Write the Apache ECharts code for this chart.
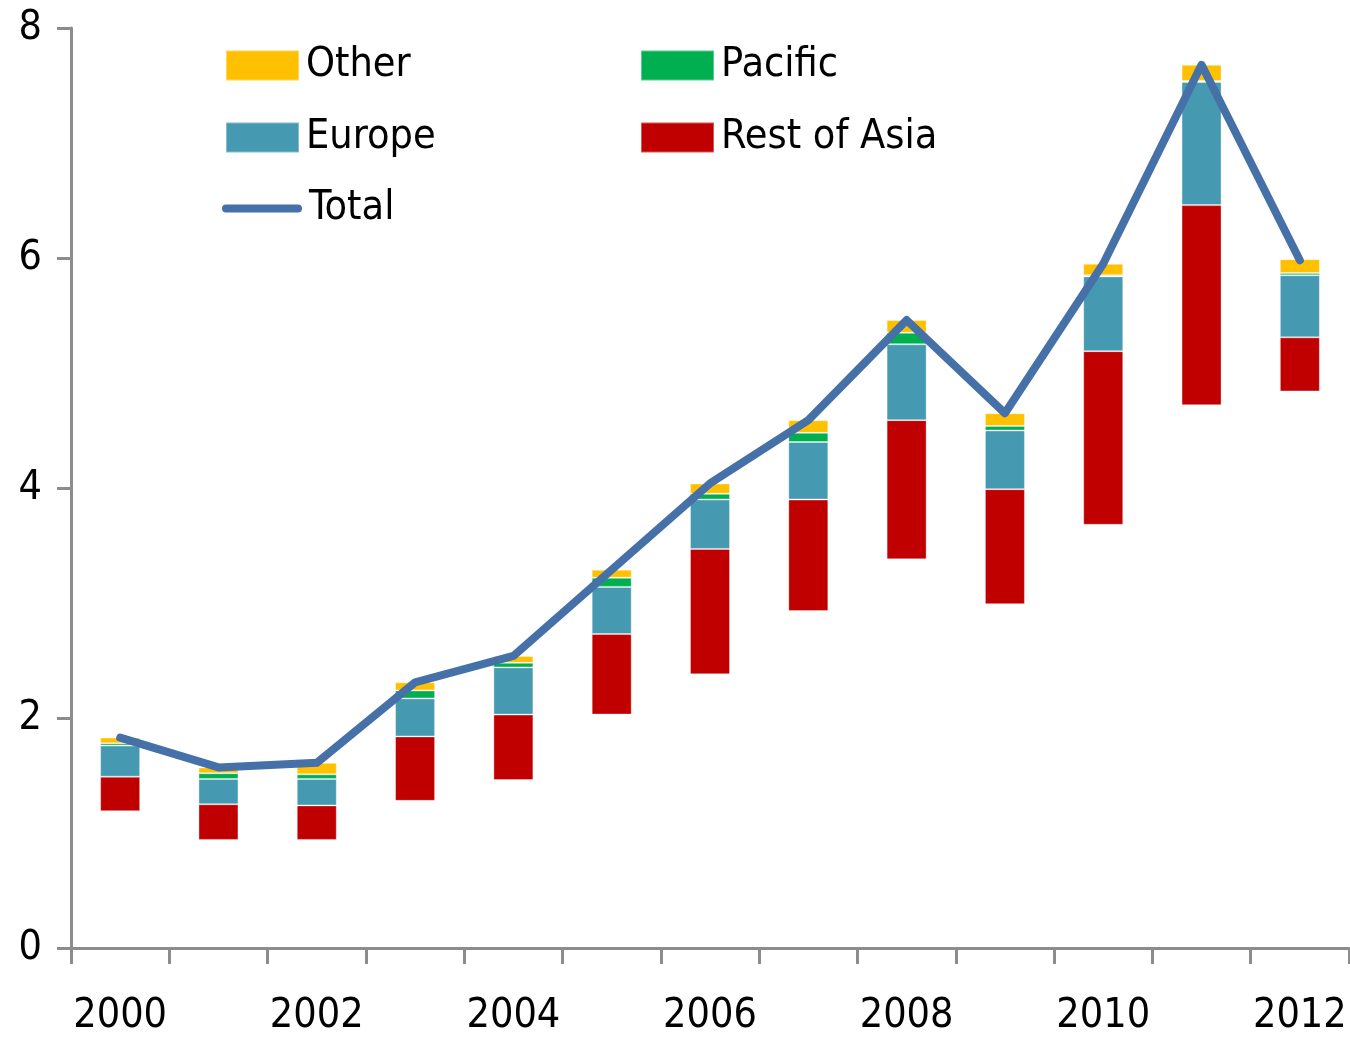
<!DOCTYPE html>
<html>
<head>
<meta charset="utf-8">
<title>Stacked regions with total</title>
<script src="https://cdn.jsdelivr.net/npm/echarts@6/dist/echarts.min.js"></script>
<style>
  html, body { margin: 0; padding: 0; background: #fff; overflow: hidden; }
  #chart { width: 100vw; height: 100vh; }
</style>
</head>
<body>
<div id="chart"></div>
<script>
// Years on the category axis
const years = ['2000', '2001', '2002', '2003', '2004', '2005', '2006',
               '2007', '2008', '2009', '2010', '2011', '2012'];

// Unlabelled lower part of each column (drawn invisible, lifts the stack)
const baseValues  = [1.19, 0.94, 0.94, 1.28, 1.46, 2.03, 2.38, 2.93, 3.38, 2.99, 3.68, 4.72, 4.84];
// Visible stacked segments, bottom to top
const restOfAsia  = [0.30, 0.31, 0.30, 0.56, 0.57, 0.70, 1.09, 0.97, 1.21, 1.00, 1.51, 1.74, 0.47];
const europe      = [0.27, 0.22, 0.23, 0.33, 0.41, 0.41, 0.43, 0.50, 0.66, 0.51, 0.65, 1.07, 0.54];
const pacific     = [0.02, 0.05, 0.04, 0.07, 0.04, 0.08, 0.05, 0.08, 0.10, 0.04, 0.01, 0.01, 0.02];
const other       = [0.05, 0.05, 0.10, 0.07, 0.06, 0.07, 0.09, 0.11, 0.11, 0.11, 0.10, 0.14, 0.12];
// Total line
const total       = [1.83, 1.57, 1.61, 2.31, 2.54, 3.29, 4.04, 4.59, 5.46, 4.65, 5.95, 7.68, 5.98];

// Value-axis ticks
const yTicks = [0, 2, 4, 6, 8];

const FONT = "'Liberation Sans Narrow', 'DejaVu Sans Condensed', 'Roboto Condensed', 'Liberation Sans', sans-serif";
const FONT_SIZE = 41;
const AXIS_GRAY = '#8c8c8c';

const colors = {
  restOfAsia: '#C00000',
  europe: '#4599B1',
  pacific: '#00B050',
  other: '#FFC000',
  total: '#4571A8'
};

const el = document.getElementById('chart');
const W = el.clientWidth || 1350;
const H = el.clientHeight || 1037;
// layout is specified on a 1350 x 1037 canvas and scaled to the actual box
const sx = (v) => v * W / 1350;
const sy = (v) => v * H / 1037;

function barSeries(name, data, color) {
  return {
    name: name,
    type: 'bar',
    stack: 'regions',
    data: data,
    barWidth: sx(40),
    itemStyle: { color: color, borderColor: 'rgba(255,255,255,0.35)', borderWidth: 1 },
    emphasis: { disabled: true },
    z: 2
  };
}

function legendBlock(item, left, top, extra) {
  return Object.assign({
    data: [item],
    left: sx(left),
    top: sy(top),
    padding: 0,
    icon: 'rect',
    itemWidth: 73,
    itemHeight: 30,
    itemGap: 0,
    selectedMode: false,
    textStyle: {
      fontFamily: FONT,
      fontSize: FONT_SIZE,
      color: '#000',
      lineHeight: 30,
      padding: [0, 0, 0, 2]
    }
  }, extra || {});
}

const chart = echarts.init(el, null, { renderer: 'canvas' });

chart.setOption({
  animation: false,
  backgroundColor: '#fff',
  grid: { left: sx(71), right: sx(1), top: sy(28), bottom: sy(89), containLabel: false },
  legend: [
    legendBlock('Other', 225, 45),
    legendBlock('Europe', 225, 117),
    legendBlock({ name: 'Total', icon: 'path://M4,0H76A4,4,0,0,1,76,8H4A4,4,0,0,1,4,0Z' }, 222, 188,
      { itemWidth: 80, itemHeight: 8 }),
    legendBlock('Pacific', 640, 45),
    legendBlock('Rest of Asia', 640, 117)
  ],
  xAxis: {
    type: 'category',
    data: years,
    boundaryGap: true,
    axisLine: { show: true, lineStyle: { color: AXIS_GRAY, width: 3 } },
    axisTick: { show: true, interval: 0, length: 16, lineStyle: { color: AXIS_GRAY, width: 3 } },
    axisLabel: {
      interval: 1,
      margin: 48,
      fontFamily: FONT,
      fontSize: FONT_SIZE,
      color: '#000'
    },
    splitLine: { show: false }
  },
  yAxis: {
    type: 'value',
    min: yTicks[0],
    max: yTicks[yTicks.length - 1],
    interval: 2,
    axisLine: { show: true, lineStyle: { color: AXIS_GRAY, width: 3 } },
    axisTick: { show: true, length: 14, lineStyle: { color: AXIS_GRAY, width: 3 } },
    axisLabel: {
      margin: 29,
      fontFamily: FONT,
      fontSize: FONT_SIZE,
      color: '#000'
    },
    splitLine: { show: false }
  },
  series: [
    {
      name: 'base',
      type: 'bar',
      stack: 'regions',
      data: baseValues,
      barWidth: sx(40),
      silent: true,
      itemStyle: { color: 'rgba(0,0,0,0)' },
      emphasis: { disabled: true }
    },
    barSeries('Rest of Asia', restOfAsia, colors.restOfAsia),
    barSeries('Europe', europe, colors.europe),
    barSeries('Pacific', pacific, colors.pacific),
    barSeries('Other', other, colors.other),
    {
      name: 'Total',
      type: 'line',
      data: total,
      symbol: 'none',
      showSymbol: false,
      color: colors.total,
      lineStyle: { color: colors.total, width: 8, cap: 'round', join: 'round' },
      itemStyle: { color: colors.total },
      emphasis: { disabled: true },
      z: 5
    }
  ]
});
</script>
</body>
</html>
